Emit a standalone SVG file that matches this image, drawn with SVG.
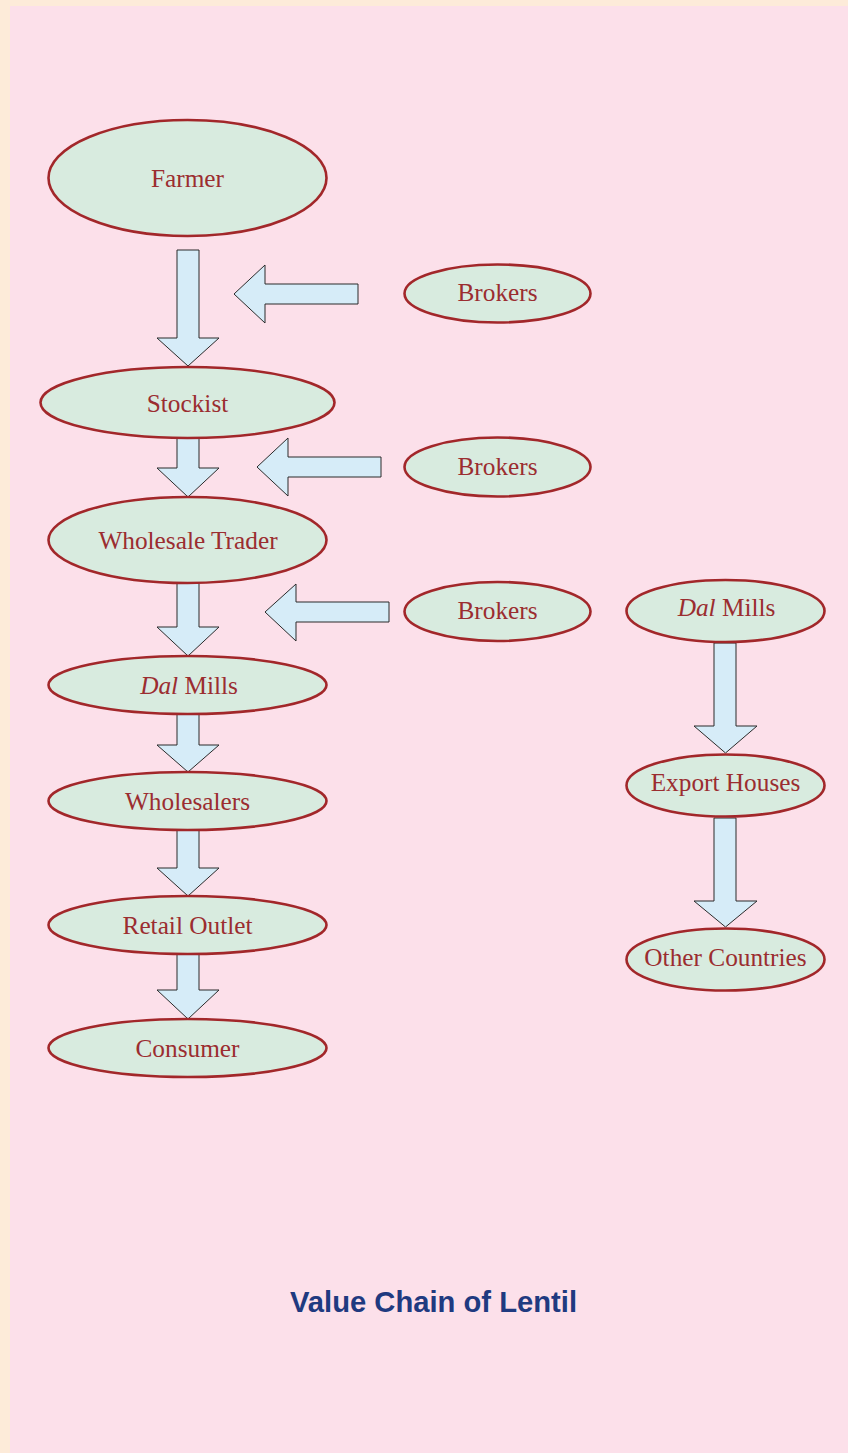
<svg xmlns="http://www.w3.org/2000/svg" width="848" height="1453" viewBox="0 0 848 1453">
<style>
.node ellipse{fill:#D8EBDF;stroke:#A2272A;stroke-width:2.6}
.node text{font-family:"Liberation Serif","Times New Roman",serif;font-size:25.3px;fill:#9B2D30;text-anchor:middle}
.arr{fill:#D6ECF8;stroke:#2b2b2b;stroke-width:1}
.title{font-family:"Liberation Sans",Arial,sans-serif;font-weight:bold;font-size:29.2px;fill:#1F3A80;text-anchor:middle}
</style>
<rect x="0" y="0" width="848" height="1453" fill="#FDEBD9"/>
<rect x="10" y="6" width="838" height="1447" fill="#FCE0EA"/>
<g id="connectors">
<path class="arr" d="M177,250 H199 V338 H219 L188,366 L157,338 H177 Z"/>
<path class="arr" d="M177,438 H199 V468 H219 L188,497 L157,468 H177 Z"/>
<path class="arr" d="M177,583 H199 V627 H219 L188,656 L157,627 H177 Z"/>
<path class="arr" d="M177,714 H199 V745 H219 L188,772 L157,745 H177 Z"/>
<path class="arr" d="M177,830 H199 V868 H219 L188,896 L157,868 H177 Z"/>
<path class="arr" d="M177,954 H199 V990 H219 L188,1019 L157,990 H177 Z"/>
<path class="arr" d="M714,643 H736 V726 H757 L725.5,753 L694,726 H714 Z"/>
<path class="arr" d="M714,818 H736 V901 H757 L725.5,927 L694,901 H714 Z"/>
<path class="arr" d="M358,284 V304 H265 V323 L234,294 L265,265 V284 Z"/>
<path class="arr" d="M381,457 V477 H288 V496 L257,467 L288,438 V457 Z"/>
<path class="arr" d="M389,602 V622 H296 V641 L265,612 L296,584 V602 Z"/>
</g>
<g id="farmer" class="node"><ellipse cx="187.5" cy="178" rx="139" ry="58"/><text x="187.5" y="187">Farmer</text></g>
<g id="stockist" class="node"><ellipse cx="187.5" cy="402.5" rx="147" ry="35.5"/><text x="187.5" y="412">Stockist</text></g>
<g id="wholesale-trader" class="node"><ellipse cx="187.5" cy="540" rx="139" ry="43"/><text x="188" y="549">Wholesale Trader</text></g>
<g id="dal-mills-1" class="node"><ellipse cx="187.5" cy="685" rx="139" ry="29"/><text x="189" y="694"><tspan font-style="italic">Dal</tspan> Mills</text></g>
<g id="wholesalers" class="node"><ellipse cx="187.5" cy="801" rx="139" ry="29"/><text x="187.5" y="810">Wholesalers</text></g>
<g id="retail-outlet" class="node"><ellipse cx="187.5" cy="925" rx="139" ry="29"/><text x="187.5" y="934">Retail Outlet</text></g>
<g id="consumer" class="node"><ellipse cx="187.5" cy="1048" rx="139" ry="29"/><text x="187.5" y="1057">Consumer</text></g>
<g id="brokers-1" class="node"><ellipse cx="497.5" cy="293.5" rx="93" ry="29"/><text x="497.5" y="301">Brokers</text></g>
<g id="brokers-2" class="node"><ellipse cx="497.5" cy="467" rx="93" ry="29.5"/><text x="497.5" y="475">Brokers</text></g>
<g id="brokers-3" class="node"><ellipse cx="497.5" cy="611.5" rx="93" ry="29.5"/><text x="497.5" y="619">Brokers</text></g>
<g id="dal-mills-2" class="node"><ellipse cx="725.5" cy="611" rx="99" ry="31"/><text x="726.5" y="616"><tspan font-style="italic">Dal</tspan> Mills</text></g>
<g id="export-houses" class="node"><ellipse cx="725.5" cy="785.5" rx="99" ry="31"/><text x="725.5" y="791">Export Houses</text></g>
<g id="other-countries" class="node"><ellipse cx="725.5" cy="959.5" rx="99" ry="31"/><text x="725.5" y="966">Other Countries</text></g>
<text class="title" x="433.5" y="1312">Value Chain of Lentil</text>
</svg>
